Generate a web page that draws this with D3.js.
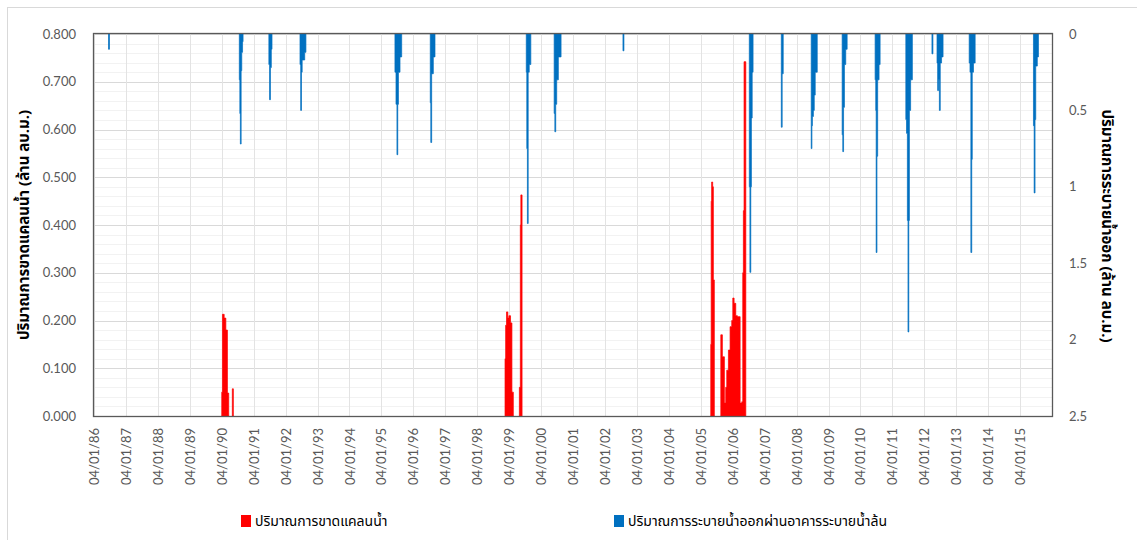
<!DOCTYPE html>
<html>
<head>
<meta charset="utf-8">
<script src="https://cdn.jsdelivr.net/npm/d3@7"></script>
<style>
  body { margin: 0; background: #fff; }
  .tick-label { font-family: Lato, "Liberation Sans", sans-serif; font-size: 13px; fill: #595959; }
  .thai { font-family: Tahoma, "Leelawadee UI", "Noto Sans Thai", "Noto Sans", "DejaVu Sans", sans-serif; fill: #000; }
</style>
</head>
<body>
<svg id="chart" width="1137" height="540"></svg>
<script>
// ---- data ----
const xDomain = ["1986-01-04", "2016-01-04"]
const xTickLabels = ["04/01/86","04/01/87","04/01/88","04/01/89","04/01/90","04/01/91","04/01/92","04/01/93",
  "04/01/94","04/01/95","04/01/96","04/01/97","04/01/98","04/01/99","04/01/00","04/01/01","04/01/02",
  "04/01/03","04/01/04","04/01/05","04/01/06","04/01/07","04/01/08","04/01/09","04/01/10","04/01/11",
  "04/01/12","04/01/13","04/01/14","04/01/15"]
const leftTicks = [0, 0.1, 0.2, 0.3, 0.4, 0.5, 0.6, 0.7, 0.8]
const rightTicks = [0, 0.5, 1, 1.5, 2, 2.5]

// water deficit (left axis, million m3); each event closes with a 0
const deficitSeries = [
  ["1990-01-04",0.05],["1990-01-12",0.213],["1990-02-01",0.205],["1990-02-20",0.18],["1990-03-10",0.048],["1990-03-25",0],
  ["1990-05-05",0.057],["1990-05-17",0],
  ["1998-11-18",0.12],["1998-11-25",0.19],["1998-12-05",0.218],["1998-12-20",0.205],["1999-01-01",0.21],["1999-01-20",0.195],["1999-02-05",0.05],["1999-02-21",0],
  ["1999-05-01",0.06],["1999-05-12",0.40],["1999-05-18",0.463],["1999-06-01",0],
  ["2005-04-28",0.15],["2005-05-03",0.45],["2005-05-08",0.49],["2005-05-20",0.48],["2005-05-28",0.285],["2005-06-08",0],
  ["2005-08-21",0.17],["2005-09-08",0.124],["2005-10-01",0.027],["2005-10-16",0.06],["2005-10-28",0.096],["2005-11-16",0.138],
  ["2005-12-05",0.187],["2005-12-24",0.2],["2006-01-05",0.247],["2006-01-20",0.236],["2006-02-08",0.21],["2006-02-27",0.208],
  ["2006-03-30",0.027],["2006-04-18",0.03],["2006-04-29",0.30],["2006-05-06",0.43],["2006-05-14",0.742],["2006-06-03",0]
]

// spillway release (right axis, inverted, million m3)
const spillSeries = [
  ["1986-06-19",0.10],["1986-06-30",0],
  ["1990-07-24",0.30],["1990-07-30",0.52],["1990-08-05",0.72],["1990-08-14",0.24],["1990-08-21",0.12],["1990-08-30",0.05],["1990-09-05",0],
  ["1991-06-27",0.2],["1991-07-05",0.43],["1991-07-15",0.22],["1991-07-25",0.1],["1991-08-02",0],
  ["1992-06-17",0.2],["1992-06-25",0.50],["1992-07-04",0.25],["1992-07-12",0.17],["1992-08-10",0.12],["1992-08-24",0],
  ["1995-06-08",0.25],["1995-06-20",0.46],["1995-07-01",0.79],["1995-07-10",0.46],["1995-07-18",0.25],["1995-08-05",0.15],["1995-08-24",0],
  ["1996-07-16",0.45],["1996-07-22",0.71],["1996-08-01",0.26],["1996-08-20",0.15],["1996-09-08",0],
  ["1999-07-19",0.25],["1999-07-25",0.75],["1999-08-01",1.24],["1999-08-10",0.25],["1999-08-22",0.2],["1999-09-09",0],
  ["2000-06-02",0.52],["2000-06-10",0.64],["2000-06-20",0.46],["2000-07-01",0.3],["2000-07-20",0.15],["2000-08-20",0],
  ["2002-07-29",0.11],["2002-08-09",0],
  ["2006-07-13",1.0],["2006-07-20",1.56],["2006-07-30",1.0],["2006-08-06",0.55],["2006-08-15",0.25],["2006-08-25",0],
  ["2007-07-14",0.61],["2007-07-24",0.26],["2007-08-05",0],
  ["2008-06-20",0.75],["2008-06-28",0.6],["2008-07-04",0.54],["2008-07-15",0.5],["2008-07-25",0.4],["2008-08-05",0.25],["2008-08-28",0],
  ["2009-06-09",0.66],["2009-06-16",0.77],["2009-06-25",0.48],["2009-07-05",0.2],["2009-07-20",0.1],["2009-08-05",0],
  ["2010-06-21",0.3],["2010-06-28",0.5],["2010-07-03",1.43],["2010-07-12",0.8],["2010-07-20",0.3],["2010-08-05",0.2],["2010-08-17",0],
  ["2011-06-07",0.56],["2011-06-15",0.65],["2011-06-25",1.22],["2011-07-02",1.95],["2011-07-11",1.22],["2011-07-18",0.5],["2011-08-01",0.3],["2011-08-21",0],
  ["2012-04-01",0.13],["2012-04-12",0],
  ["2012-05-29",0.19],["2012-06-05",0.37],["2012-06-15",0.3],["2012-06-25",0.50],["2012-07-05",0.19],["2012-07-20",0.15],["2012-08-06",0],
  ["2013-06-01",0.19],["2013-06-10",0.25],["2013-06-20",1.43],["2013-06-30",0.82],["2013-07-06",0.25],["2013-07-20",0.19],["2013-08-08",0],
  ["2015-06-06",0.6],["2015-06-14",1.04],["2015-06-24",0.56],["2015-07-02",0.21],["2015-07-20",0.15],["2015-08-02",0]
]

const leftTitle = "ปริมาณการขาดแคลนน้ำ (ล้าน ลบ.ม.)"
const rightTitle = "ปริมาณการระบายน้ำออก (ล้าน ลบ.ม.)"
const legendLabels = ["ปริมาณการขาดแคลนน้ำ", "ปริมาณการระบายน้ำออกผ่านอาคารระบายน้ำล้น"]
const seriesColors = ["#ff0000", "#0070c0"]

// ---- layout ----
const plot = {left: 94, right: 1052, top: 34, bottom: 416}
const parseIso = d3.timeParse("%Y-%m-%d")
const parseTick = d3.timeParse("%d/%m/%y")

let svg = d3.select("#chart")

let x = d3.scaleTime().domain(xDomain.map(parseIso)).range([plot.left, plot.right])
let yLeft = d3.scaleLinear().domain([0, 0.8]).range([plot.bottom, plot.top])
let yRight = d3.scaleLinear().domain([0, 2.5]).range([plot.top, plot.bottom])

// outer chart frame
svg.append("rect")
  .attr("x", 7.5).attr("y", 7.5).attr("width", 1140).attr("height", 540)
  .attr("fill", "#fff").attr("stroke", "#d9d9d9")

// gridlines
let grid = svg.append("g")
grid.selectAll("line.minor")
  .data(yLeft.ticks(40))
  .join("line")
  .attr("class", "minor")
  .attr("x1", plot.left).attr("x2", plot.right)
  .attr("y1", d => Math.round(yLeft(d)) + 0.5).attr("y2", d => Math.round(yLeft(d)) + 0.5)
  .attr("stroke", "#f2f2f2")
grid.selectAll("line.major")
  .data(leftTicks)
  .join("line")
  .attr("class", "major")
  .attr("x1", plot.left).attr("x2", plot.right)
  .attr("y1", d => Math.round(yLeft(d)) + 0.5).attr("y2", d => Math.round(yLeft(d)) + 0.5)
  .attr("stroke", "#d9d9d9")
grid.selectAll("line.vert")
  .data(xTickLabels.map(parseTick))
  .join("line")
  .attr("class", "vert")
  .attr("x1", d => Math.round(x(d)) + 0.5).attr("x2", d => Math.round(x(d)) + 0.5)
  .attr("y1", plot.top).attr("y2", plot.bottom)
  .attr("stroke", "#e3e3e3")

// split a step series into separate events (each ends on its 0 point)
function splitEvents(series){
  let events = []
  let current = []
  for(const [date, value] of series){
    current.push({date: parseIso(date), value: value})
    if(value === 0){
      events.push(current)
      current = []
    }
  }
  if(current.length) events.push(current)
  return events
}

function drawSeries(series, yScale, color){
  let area = d3.area()
    .curve(d3.curveStepAfter)
    .x(d => x(d.date))
    .y0(yScale(0))
    .y1(d => yScale(d.value))
  svg.append("g")
    .selectAll("path")
    .data(splitEvents(series))
    .join("path")
    .attr("d", area)
    .attr("fill", color)
    .attr("stroke", color)
    .attr("stroke-width", 0.7)
}

drawSeries(deficitSeries, yLeft, seriesColors[0])
drawSeries(spillSeries, yRight, seriesColors[1])

// plot frame
svg.append("rect")
  .attr("x", plot.left - 0.5).attr("y", plot.top - 0.5)
  .attr("width", plot.right - plot.left + 1).attr("height", plot.bottom - plot.top + 1)
  .attr("fill", "none").attr("stroke", "#595959").attr("stroke-width", 1.3)

// axes (labels only, the frame is the axis line)
let leftAxis = svg.append("g")
  .attr("transform", `translate(${plot.left},0)`)
  .call(d3.axisLeft(yLeft).tickValues(leftTicks).tickFormat(d3.format(".3f")).tickSize(0).tickPadding(18))
let rightAxis = svg.append("g")
  .attr("transform", `translate(${plot.right},0)`)
  .call(d3.axisRight(yRight).tickValues(rightTicks).tickFormat(d => String(d)).tickSize(0).tickPadding(17))
let bottomAxis = svg.append("g")
  .attr("transform", `translate(0,${plot.bottom})`)
  .call(d3.axisBottom(x).tickValues(xTickLabels.map(parseTick)).tickFormat(d3.timeFormat("%d/%m/%y")).tickSize(0))
bottomAxis.selectAll("text")
  .attr("transform", "rotate(-90)")
  .attr("text-anchor", "end")
  .attr("x", -12).attr("y", 0).attr("dy", "0.35em")

for(const axis of [leftAxis, rightAxis, bottomAxis]){
  axis.select(".domain").remove()
  axis.selectAll("text").attr("class", "tick-label").attr("fill", null).attr("font-family", null).attr("font-size", null)
}

// axis titles
svg.append("text")
  .attr("class", "thai")
  .attr("transform", "translate(24,225) rotate(-90)")
  .attr("text-anchor", "middle").attr("dominant-baseline", "central")
  .attr("font-size", 15).attr("font-weight", "bold")
  .text(leftTitle)
svg.append("text")
  .attr("class", "thai")
  .attr("transform", "translate(1106,226) rotate(90)")
  .attr("text-anchor", "middle").attr("dominant-baseline", "central")
  .attr("font-size", 15).attr("font-weight", "bold")
  .text(rightTitle)

// legend
const legendX = [241, 614]
let legend = svg.append("g")
  .selectAll("g")
  .data(legendLabels)
  .join("g")
  .attr("transform", (d, i) => `translate(${legendX[i]},515)`)
legend.append("rect")
  .attr("width", 10).attr("height", 12)
  .attr("fill", (d, i) => seriesColors[i])
legend.append("text")
  .attr("class", "thai")
  .attr("x", 14).attr("y", 6).attr("dominant-baseline", "central")
  .attr("font-size", 14)
  .text(d => d)
</script>
</body>
</html>
